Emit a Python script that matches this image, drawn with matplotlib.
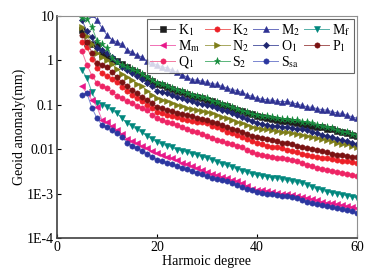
import numpy as np
import matplotlib
matplotlib.use("Agg")
import matplotlib.pyplot as plt

plt.rcParams['font.family'] = ['Liberation Serif', 'DejaVu Serif']
plt.rcParams['mathtext.fontset'] = 'stix'

degree = list(range(5, 61))

M2 = [18, 14, 11, 8.1, 5.4, 3.7, 2.9, 2.6, 2.3, 1.7,
      1.55, 1.3, 1.2, 0.95, 0.88, 0.79, 0.72, 0.68, 0.6, 0.55,
      0.48, 0.42, 0.37, 0.36, 0.34, 0.32, 0.3, 0.29, 0.26, 0.24,
      0.22, 0.21, 0.19, 0.17, 0.155, 0.14, 0.135, 0.13, 0.127, 0.12,
      0.118, 0.12, 0.112, 0.105, 0.097, 0.09, 0.088, 0.082, 0.078, 0.076,
      0.07, 0.066, 0.064, 0.058, 0.054, 0.05]
S2 = [9.0, 8.5, 5.6, 2.8, 2.3, 1.9, 1.15, 0.91, 0.8, 0.7,
      0.63, 0.58, 0.5, 0.42, 0.36, 0.31, 0.29, 0.27, 0.24, 0.22,
      0.2, 0.185, 0.17, 0.16, 0.15, 0.14, 0.125, 0.118, 0.105, 0.097,
      0.089, 0.082, 0.074, 0.068, 0.063, 0.059, 0.056, 0.055, 0.052, 0.05,
      0.049, 0.047, 0.045, 0.045, 0.042, 0.041, 0.038, 0.036, 0.033, 0.031,
      0.03, 0.027, 0.025, 0.024, 0.022, 0.021]
K1 = [4.8, 2.5, 2.4, 2.2, 1.4, 1.25, 1.1, 0.98, 0.82, 0.7,
      0.62, 0.55, 0.48, 0.41, 0.35, 0.3, 0.28, 0.25, 0.23, 0.21,
      0.19, 0.175, 0.16, 0.15, 0.14, 0.13, 0.12, 0.11, 0.1, 0.092,
      0.085, 0.078, 0.072, 0.066, 0.061, 0.057, 0.053, 0.05, 0.048, 0.046,
      0.044, 0.043, 0.041, 0.039, 0.037, 0.036, 0.034, 0.032, 0.031, 0.029,
      0.028, 0.026, 0.025, 0.023, 0.021, 0.02]
O1 = [8.1, 4.5, 3.3, 1.9, 1.7, 1.5, 1.2, 0.95, 0.72, 0.6,
      0.52, 0.45, 0.38, 0.31, 0.26, 0.21, 0.195, 0.18, 0.165, 0.15,
      0.14, 0.13, 0.12, 0.112, 0.105, 0.1, 0.092, 0.085, 0.078, 0.071,
      0.064, 0.058, 0.052, 0.047, 0.043, 0.039, 0.037, 0.035, 0.034, 0.033,
      0.032, 0.031, 0.03, 0.029, 0.028, 0.027, 0.025, 0.023, 0.021, 0.02,
      0.019, 0.017, 0.016, 0.015, 0.014, 0.013]
N2 = [5.6, 3.6, 2.4, 1.5, 1.2, 1.0, 0.82, 0.65, 0.5, 0.42,
      0.36, 0.3, 0.26, 0.21, 0.17, 0.14, 0.13, 0.12, 0.11, 0.1,
      0.092, 0.086, 0.08, 0.076, 0.072, 0.069, 0.064, 0.059, 0.054, 0.05,
      0.046, 0.042, 0.038, 0.035, 0.032, 0.03, 0.029, 0.028, 0.027, 0.026,
      0.025, 0.024, 0.023, 0.022, 0.021, 0.02, 0.019, 0.018, 0.017, 0.016,
      0.015, 0.014, 0.013, 0.013, 0.012, 0.011]
P1 = [3.7, 2.6, 1.5, 0.87, 0.8, 0.71, 0.55, 0.42, 0.33, 0.27,
      0.22, 0.18, 0.15, 0.13, 0.11, 0.09, 0.083, 0.077, 0.072, 0.067,
      0.062, 0.058, 0.055, 0.051, 0.048, 0.045, 0.041, 0.038, 0.035, 0.032,
      0.029, 0.027, 0.025, 0.022, 0.02, 0.019, 0.018, 0.017, 0.016, 0.015,
      0.014, 0.0135, 0.013, 0.012, 0.0113, 0.0107, 0.01, 0.0095, 0.009, 0.0085,
      0.008, 0.0076, 0.0073, 0.007, 0.0068, 0.0066]
K2 = [2.6, 2.0, 1.1, 0.67, 0.52, 0.45, 0.38, 0.32, 0.25, 0.2,
      0.165, 0.14, 0.12, 0.1, 0.083, 0.069, 0.064, 0.06, 0.056, 0.052,
      0.049, 0.046, 0.044, 0.042, 0.04, 0.038, 0.034, 0.031, 0.028, 0.025,
      0.023, 0.021, 0.019, 0.017, 0.015, 0.014, 0.013, 0.012, 0.0115, 0.011,
      0.0105, 0.0098, 0.0092, 0.0086, 0.008, 0.0075, 0.0071, 0.0068, 0.0065, 0.0062,
      0.0059, 0.0057, 0.0055, 0.0053, 0.0051, 0.0049]
Q1 = [1.6, 0.79, 0.45, 0.31, 0.27, 0.24, 0.19, 0.16, 0.14, 0.12,
      0.11, 0.095, 0.085, 0.075, 0.06, 0.05, 0.045, 0.041, 0.038, 0.035,
      0.032, 0.029, 0.026, 0.024, 0.022, 0.02, 0.018, 0.016, 0.015, 0.014,
      0.013, 0.012, 0.011, 0.0095, 0.0085, 0.0078, 0.0074, 0.0071, 0.0068, 0.0065,
      0.0062, 0.006, 0.0057, 0.0053, 0.0048, 0.0044, 0.0041, 0.0038, 0.0036, 0.0034,
      0.0032, 0.003, 0.0029, 0.0027, 0.0026, 0.0025]
Mf = [0.6, 0.4, 0.19, 0.11, 0.1, 0.089, 0.075, 0.065, 0.05, 0.039,
      0.033, 0.028, 0.024, 0.02, 0.017, 0.0145, 0.013, 0.012, 0.011, 0.0098,
      0.0092, 0.0085, 0.008, 0.0074, 0.0068, 0.0063, 0.0058, 0.0052, 0.0047, 0.0043,
      0.004, 0.0036, 0.0033, 0.003, 0.0028, 0.0026, 0.0025, 0.0024, 0.0023, 0.0022,
      0.0021, 0.002, 0.0019, 0.0018, 0.0017, 0.0016, 0.0014, 0.0013, 0.0012, 0.0011,
      0.00105, 0.001, 0.00095, 0.0009, 0.00085, 0.0008]
Mm = [0.26, 0.18, 0.13, 0.09, 0.046, 0.04, 0.033, 0.027, 0.022, 0.017,
      0.015, 0.0135, 0.012, 0.0105, 0.009, 0.0081, 0.0074, 0.0068, 0.0062, 0.0056,
      0.005, 0.0046, 0.0042, 0.0038, 0.0034, 0.003, 0.0028, 0.0026, 0.0024, 0.0022,
      0.002, 0.0019, 0.0017, 0.0015, 0.0013, 0.0012, 0.00118, 0.00115, 0.0011, 0.00105,
      0.001, 0.00098, 0.00095, 0.0009, 0.00085, 0.0008, 0.00075, 0.0007, 0.00066, 0.00062,
      0.0006, 0.00058, 0.00055, 0.00052, 0.0005, 0.00048]
Ssa = [0.166, 0.18, 0.085, 0.05, 0.035, 0.031, 0.027, 0.023, 0.019, 0.014,
       0.012, 0.0105, 0.0092, 0.008, 0.0068, 0.0058, 0.0054, 0.005, 0.0046, 0.0042,
       0.0038, 0.0035, 0.0032, 0.0029, 0.0027, 0.0025, 0.0023, 0.0021, 0.002, 0.0019,
       0.0017, 0.0016, 0.0014, 0.0013, 0.0012, 0.0011, 0.00105, 0.001, 0.00098, 0.00095,
       0.0009, 0.00088, 0.00085, 0.0008, 0.00072, 0.00065, 0.0006, 0.00057, 0.00055, 0.00052,
       0.0005, 0.00047, 0.00044, 0.00042, 0.0004, 0.00037]

# name, values, marker, marker color, line color
series = [
    ('K$_1$', K1, 's', '#1e1e1e', '#6a6a6a'),
    ('K$_2$', K2, 'o', '#ec2027', '#f06a6a'),
    ('M$_2$', M2, '^', '#2e3192', '#6a70c0'),
    ('M$_{\\rm f}$', Mf, 'v', '#00877d', '#55b0a8'),
    ('M$_{\\rm m}$', Mm, '<', '#e8178a', '#f070b5'),
    ('N$_2$', N2, '>', '#7d7d18', '#a8a860'),
    ('O$_1$', O1, 'D', '#1f2670', '#5a62a8'),
    ('P$_1$', P1, 'o', '#7a1212', '#a85a5a'),
    ('Q$_1$', Q1, 'o', '#ee2465', '#f27aa0'),
    ('S$_2$', S2, '*', '#138a3a', '#5ab57a'),
    ('S$_{\\rm sa}$', Ssa, 'o', '#2b36a0', '#7a86d0'),
]

fig = plt.figure(figsize=(3.8, 2.72), dpi=100)
ax = fig.add_axes([0.15, 0.125, 0.789, 0.816])

handles = {}
for name, vals, mk, mc, lc in series:
    ms = 5.2 if mk == '*' else 3.8
    if mk == 'D':
        ms = 3.2
    h, = ax.plot(degree, vals, color=lc, lw=0.7, marker=mk, ms=ms,
                 markerfacecolor=mc, markeredgecolor=mc, markeredgewidth=0.4,
                 label=name, clip_on=True)
    handles[name] = h

ax.set_yscale('log')
ax.set_xlim(0, 60)
ax.set_ylim(1e-4, 10)
ax.set_xticks([0, 20, 40, 60])
ax.set_yticks([1e-4, 1e-3, 1e-2, 1e-1, 1, 10])
ax.set_yticklabels(['1E-4', '1E-3', '0.01', '0.1', '1', '10'])
ax.minorticks_off()
ax.tick_params(direction='in', length=3, width=0.8, labelsize=10, pad=2)
for s in ['left', 'bottom']:
    ax.spines[s].set_linewidth(1.2)
    ax.spines[s].set_color('#404040')
for s in ['top', 'right']:
    ax.spines[s].set_linewidth(0.8)
    ax.spines[s].set_color('#909090')

ax.set_xlabel('Harmoic degree', fontsize=10, labelpad=1)
ax.set_ylabel('Geoid anomaly(mm)', fontsize=10, labelpad=1)

order = ['K$_1$', 'M$_{\\rm m}$', 'Q$_1$', 'K$_2$', 'N$_2$', 'S$_2$',
         'M$_2$', 'O$_1$', 'S$_{\\rm sa}$', 'M$_{\\rm f}$', 'P$_1$']
leg = ax.legend([handles[k] for k in order], order, ncol=4, loc='upper right',
                bbox_to_anchor=(1.0, 1.0), fontsize=10, frameon=True, fancybox=False,
                handlelength=1.8, handletextpad=0.2, columnspacing=0.3,
                labelspacing=0.0, borderpad=0.25, borderaxespad=0.2)
leg.get_frame().set_edgecolor('#404040')
leg.get_frame().set_linewidth(0.8)

fig.savefig('out.png', dpi=100)
